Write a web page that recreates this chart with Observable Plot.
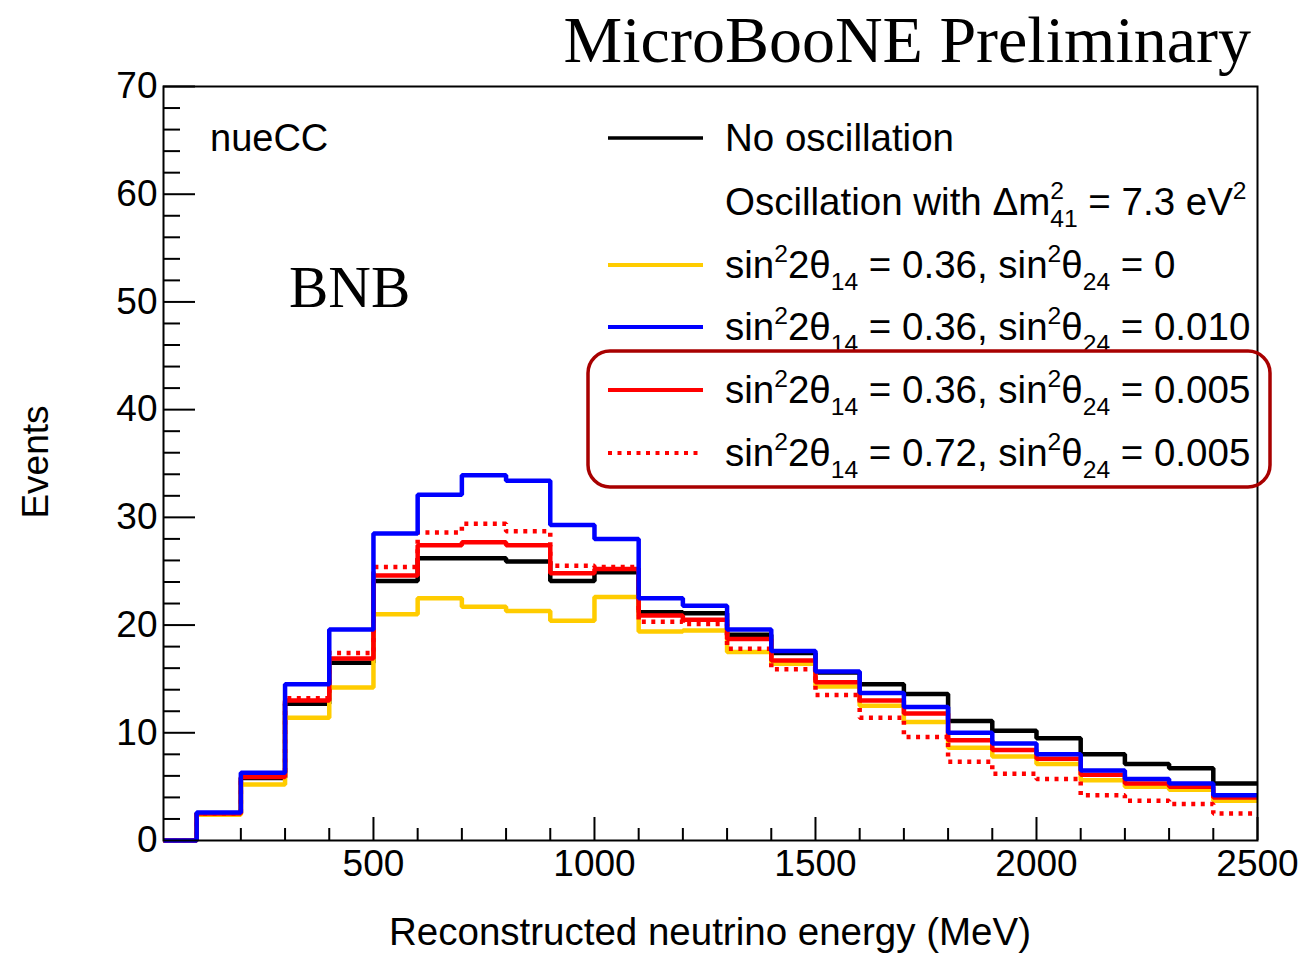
<!DOCTYPE html>
<html>
<head>
<meta charset="utf-8">
<script src="https://cdn.jsdelivr.net/npm/d3@7"></script>
<script src="https://cdn.jsdelivr.net/npm/@observablehq/plot@0.6"></script>
<style>
  html, body { margin: 0; padding: 0; background: #fff; }
  svg { display: block; }
</style>
</head>
<body>
<div id="chart"></div>
<script>
// Reconstructed neutrino energy bins (MeV), lower edges; last bin ends at 2500
const binLow = [0, 100, 200, 300, 400, 500, 600, 700, 800, 900, 1000, 1100, 1200,
                1300, 1400, 1500, 1600, 1700, 1800, 1900, 2000, 2100, 2200, 2300, 2400];
const binTop = 2500;

// Expected nueCC events per bin
const noOscillation = [0, 2.5, 5.8, 12.7, 16.5, 24.1, 26.2, 26.2, 25.9, 24.1, 24.9, 21.2, 21.1,
                       19.1, 17.4, 15.6, 14.5, 13.6, 11.1, 10.2, 9.5, 8.0, 7.1, 6.7, 5.3];
const osc036_0 = [0, 2.4, 5.2, 11.4, 14.2, 21.0, 22.5, 21.7, 21.3, 20.4, 22.6, 19.4, 19.5,
                  17.5, 16.4, 14.3, 12.5, 11.0, 8.6, 7.8, 7.1, 5.6, 5.0, 4.7, 3.7];
const osc036_0010 = [0, 2.6, 6.3, 14.5, 19.6, 28.5, 32.1, 33.9, 33.4, 29.3, 28.0, 22.5, 21.8,
                     19.6, 17.6, 15.7, 13.7, 12.4, 10.0, 9.0, 8.0, 6.5, 5.7, 5.3, 4.2];
const osc036_0005 = [0, 2.5, 5.9, 13.0, 16.9, 24.6, 27.4, 27.7, 27.4, 24.8, 25.2, 20.9, 20.5,
                     18.7, 16.7, 14.7, 13.0, 11.8, 9.3, 8.4, 7.6, 6.1, 5.3, 5.0, 4.0];
const osc072_0005 = [0, 2.5, 6.0, 13.2, 17.4, 25.4, 28.6, 29.4, 28.7, 25.5, 25.4, 20.3, 20.1,
                     17.8, 15.9, 13.5, 11.4, 9.6, 7.3, 6.2, 5.7, 4.2, 3.7, 3.4, 2.5];

// Axis ticks
const xMajor = [500, 1000, 1500, 2000, 2500];
const xMinor = [100, 200, 300, 400, 600, 700, 800, 900, 1100, 1200, 1300, 1400, 1600, 1700,
                1800, 1900, 2100, 2200, 2300, 2400];
const yMajor = [0, 10, 20, 30, 40, 50, 60, 70];
const yMinor = [2, 4, 6, 8, 12, 14, 16, 18, 22, 24, 26, 28, 32, 34, 36, 38, 42, 44, 46, 48,
                52, 54, 56, 58, 62, 64, 66, 68];

const xDomain = [25, 2500];
const yDomain = [0, 70];

// Legend parameters: sin^2 2theta_14 and sin^2 theta_24
const sin22t14 = ["0.36", "0.36", "0.36", "0.72"];
const sin2t24 = ["0", "0.010", "0.005", "0.005"];

// Series in drawing order (later ones on top)
const series = [
  {key: "none", values: noOscillation, color: "#000000", dash: null},
  {key: "a", values: osc036_0, color: "#ffcc00", dash: null},
  {key: "d", values: osc072_0005, color: "#ff0000", dash: "4,5.5"},
  {key: "c", values: osc036_0005, color: "#ff0000", dash: null},
  {key: "b", values: osc036_0010, color: "#0000ff", dash: null}
];

function stepPoints(values) {
  const pts = binLow.map((e, i) => ({e: Math.max(e, xDomain[0]), v: values[i]}));
  pts.push({e: binTop, v: values[values.length - 1]});
  return pts;
}

const W = 1302, H = 953;
const M = {top: 86, right: 45, bottom: 113, left: 163};
const plotW = W - M.left - M.right;
const plotH = H - M.top - M.bottom;
const FONT = "'Liberation Sans', Arial, Helvetica, sans-serif";
const SERIF = "'Liberation Serif', 'Times New Roman', serif";

const chart = Plot.plot({
  width: W,
  height: H,
  marginTop: M.top, marginRight: M.right, marginBottom: M.bottom, marginLeft: M.left,
  style: {fontFamily: FONT, fontSize: "37px", color: "#000", background: "#fff"},
  x: {domain: xDomain, label: null},
  y: {domain: yDomain, label: null},
  marks: [
    // inward ROOT-style ticks
    Plot.ruleX(xMinor, {stroke: "#000", strokeWidth: 2, insetTop: plotH - 12}),
    Plot.ruleX(xMajor, {stroke: "#000", strokeWidth: 2, insetTop: plotH - 23}),
    Plot.ruleY(yMinor, {stroke: "#000", strokeWidth: 2, insetRight: plotW - 17}),
    Plot.ruleY(yMajor, {stroke: "#000", strokeWidth: 2, insetRight: plotW - 32}),
    Plot.axisX(xMajor, {tickSize: 0, tickPadding: 9, fontSize: 37, label: null, tickFormat: d => String(d)}),
    Plot.axisY(yMajor, {tickSize: 0, tickPadding: 6, fontSize: 37, label: null, tickFormat: d => String(d)}),
    ...series.map(s => Plot.line(stepPoints(s.values), {
      x: "e", y: "v", curve: "step-after",
      stroke: s.color, strokeWidth: 4.5,
      strokeDasharray: s.dash,
      strokeLinejoin: "miter", strokeLinecap: "butt"
    })),
    Plot.frame({stroke: "#000", strokeWidth: 2})
  ]
});

document.getElementById("chart").appendChild(chart);
const svg = d3.select(chart);

// Rich text with super/subscripts; parts: [string, kind] with kind "", "sup", "sub", "stack"
function richText(x, y, parts, size, family) {
  const t = svg.append("text")
    .attr("x", x).attr("y", y)
    .attr("text-anchor", "start")
    .attr("font-family", family || FONT)
    .attr("font-size", size)
    .attr("fill", "#000");
  let cur = 0, lastSup = null;
  for (const [str, kind] of parts) {
    const small = kind ? size * 0.64 : size;
    const target = kind === "sup" ? -0.42 * size : (kind === "sub" || kind === "stack") ? 0.32 * size : 0;
    const ts = t.append("tspan")
      .attr("font-size", small)
      .attr("dy", target - cur)
      .text(str);
    if (kind === "stack" && lastSup) {
      ts.attr("dx", -lastSup.node().getComputedTextLength());
    }
    lastSup = kind === "sup" ? ts : null;
    cur = target;
  }
  return t;
}

// Axis titles
svg.append("text")
  .attr("x", 710).attr("y", 945)
  .attr("text-anchor", "middle")
  .attr("font-family", FONT).attr("font-size", 38.5)
  .text("Reconstructed neutrino energy (MeV)");
svg.append("text")
  .attr("transform", "translate(48,462) rotate(-90)")
  .attr("text-anchor", "middle")
  .attr("font-family", FONT).attr("font-size", 37)
  .text("Events");

// Header and annotations
svg.append("text")
  .attr("x", 1251).attr("y", 62)
  .attr("text-anchor", "end")
  .attr("font-family", SERIF).attr("font-size", 66)
  .text("MicroBooNE Preliminary");
svg.append("text")
  .attr("x", 210).attr("y", 151)
  .attr("text-anchor", "start")
  .attr("font-family", FONT).attr("font-size", 38)
  .text("nueCC");
svg.append("text")
  .attr("x", 289).attr("y", 307)
  .attr("text-anchor", "start")
  .attr("font-family", SERIF).attr("font-size", 59)
  .text("BNB");

// Legend
const LX1 = 608, LX2 = 703, TX = 725, FS = 38.5;
const rowY = [138, 202, 265, 327, 390, 453];
const legendSeries = [series[0], null, series[1], series[4], series[3], series[2]];

legendSeries.forEach((s, i) => {
  if (!s) return;
  svg.append("line")
    .attr("x1", LX1).attr("x2", LX2)
    .attr("y1", rowY[i]).attr("y2", rowY[i])
    .attr("stroke", s.color)
    .attr("stroke-width", s.key === "none" ? 3.5 : 4)
    .attr("stroke-dasharray", s.dash);
});

richText(TX, rowY[0] + 13, [["No oscillation", ""]], FS);
richText(TX, rowY[1] + 13, [
  ["Oscillation with \u0394m", ""], ["2", "sup"], ["41", "stack"], [" = 7.3 eV", ""], ["2", "sup"]
], FS);
for (let k = 0; k < 4; k++) {
  richText(TX, rowY[k + 2] + 13, [
    ["sin", ""], ["2", "sup"], ["2\u03b8", ""], ["14", "sub"],
    [` = ${sin22t14[k]}, sin`, ""], ["2", "sup"], ["\u03b8", ""], ["24", "sub"],
    [` = ${sin2t24[k]}`, ""]
  ], FS);
}

// Highlight box around the two sin^2 theta_24 = 0.005 curves
svg.append("rect")
  .attr("x", 588).attr("y", 351)
  .attr("width", 682).attr("height", 136)
  .attr("rx", 22).attr("ry", 22)
  .attr("fill", "none")
  .attr("stroke", "#a80000")
  .attr("stroke-width", 3.5);
</script>
</body>
</html>
